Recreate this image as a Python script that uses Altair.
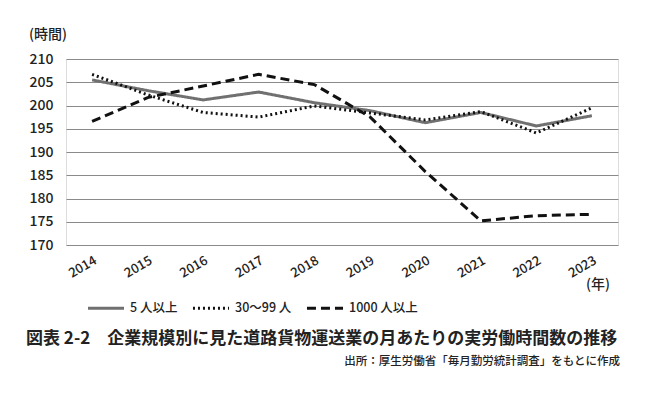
import altair as alt
import pandas as pd

years = ["2014", "2015", "2016", "2017", "2018", "2019", "2020", "2021", "2022", "2023"]
series_names = ["5 人以上", "30〜99 人", "1000 人以上"]
s5 = [205.5, 203.2, 201.2, 202.9, 200.6, 198.9, 196.3, 198.5, 195.6, 197.8]
s30 = [206.7, 202.3, 198.5, 197.5, 199.9, 198.4, 196.9, 198.7, 194.1, 199.5]
s1000 = [196.6, 201.7, 204.2, 206.7, 204.5, 197.6, 185.8, 175.2, 176.3, 176.6]

rows = []
for name, vals in zip(series_names, [s5, s30, s1000]):
    for y, v in zip(years, vals):
        rows.append({"year": y, "series": name, "value": v})
df = pd.DataFrame(rows)

FONT = "Noto Sans CJK JP"
W, H = 552, 186

leg = dict(orient="none", legendX=20, legendY=229,
           direction="horizontal", symbolType="stroke",
           symbolSize=1300, symbolStrokeWidth=3,
           labelFont=FONT, labelFontSize=12.5,
           labelFontWeight=500, labelColor="#222",
           columnPadding=8, labelOffset=4)

lines = alt.Chart(df).mark_line(strokeWidth=3).encode(
    x=alt.X("year:O", title=None, scale=alt.Scale(type="point", padding=0.47),
            axis=alt.Axis(labelAngle=-30, labelFontSize=13, labelFont=FONT,
                          labelFontWeight=500, labelColor="#222", domain=False,
                          ticks=False, labelPadding=9)),
    y=alt.Y("value:Q", title=None,
            scale=alt.Scale(domain=[170, 210], nice=False, zero=False),
            axis=alt.Axis(values=list(range(170, 211, 5)), labelFontSize=14,
                          labelFont=FONT, labelFontWeight=500, labelColor="#222",
                          domain=False, ticks=False, labelPadding=13,
                          grid=True, gridColor="#8a8a8a", gridWidth=1.2)),
    color=alt.Color("series:N", title=None,
                    scale=alt.Scale(domain=series_names, range=["#707070", "#111111", "#111111"]),
                    legend=alt.Legend(**leg)),
    strokeDash=alt.StrokeDash("series:N", title=None,
                              scale=alt.Scale(domain=series_names,
                                              range=[[1, 0], [2, 3], [9, 5]]),
                              legend=alt.Legend(**leg)),
    detail="series:N",
)

ylab = alt.Chart(pd.DataFrame({"t": ["(時間)"]})).mark_text(
    font=FONT, fontSize=14, fontWeight=500, color="#222", align="left", baseline="middle"
).encode(text="t:N", x=alt.value(-37), y=alt.value(-24))

xlab = alt.Chart(pd.DataFrame({"t": ["(年)"]})).mark_text(
    font=FONT, fontSize=14, fontWeight=500, color="#222", align="left", baseline="middle"
).encode(text="t:N", x=alt.value(520), y=alt.value(226))

title = alt.Chart(pd.DataFrame({"t": ["図表 2-2　企業規模別に見た道路貨物運送業の月あたりの実労働時間数の推移"]})).mark_text(
    font=FONT, fontSize=17, fontWeight="bold", color="#222", align="left", baseline="middle"
).encode(text="t:N", x=alt.value(-40), y=alt.value(280))

source = alt.Chart(pd.DataFrame({"t": ["出所：厚生労働省「毎月勤労統計調査」をもとに作成"]})).mark_text(
    font=FONT, fontSize=11.5, fontWeight=500, color="#222", align="right", baseline="middle"
).encode(text="t:N", x=alt.value(554), y=alt.value(303))

chart = alt.layer(lines, ylab, xlab, title, source).properties(
    width=W, height=H,
    autosize=alt.AutoSizeParams(type="none"),
    padding={"left": 58, "top": 51, "right": 24, "bottom": 140},
).configure_view(stroke=None).configure(background="white")

chart.save("out.html", embed_options={"renderer": "svg", "actions": False})
